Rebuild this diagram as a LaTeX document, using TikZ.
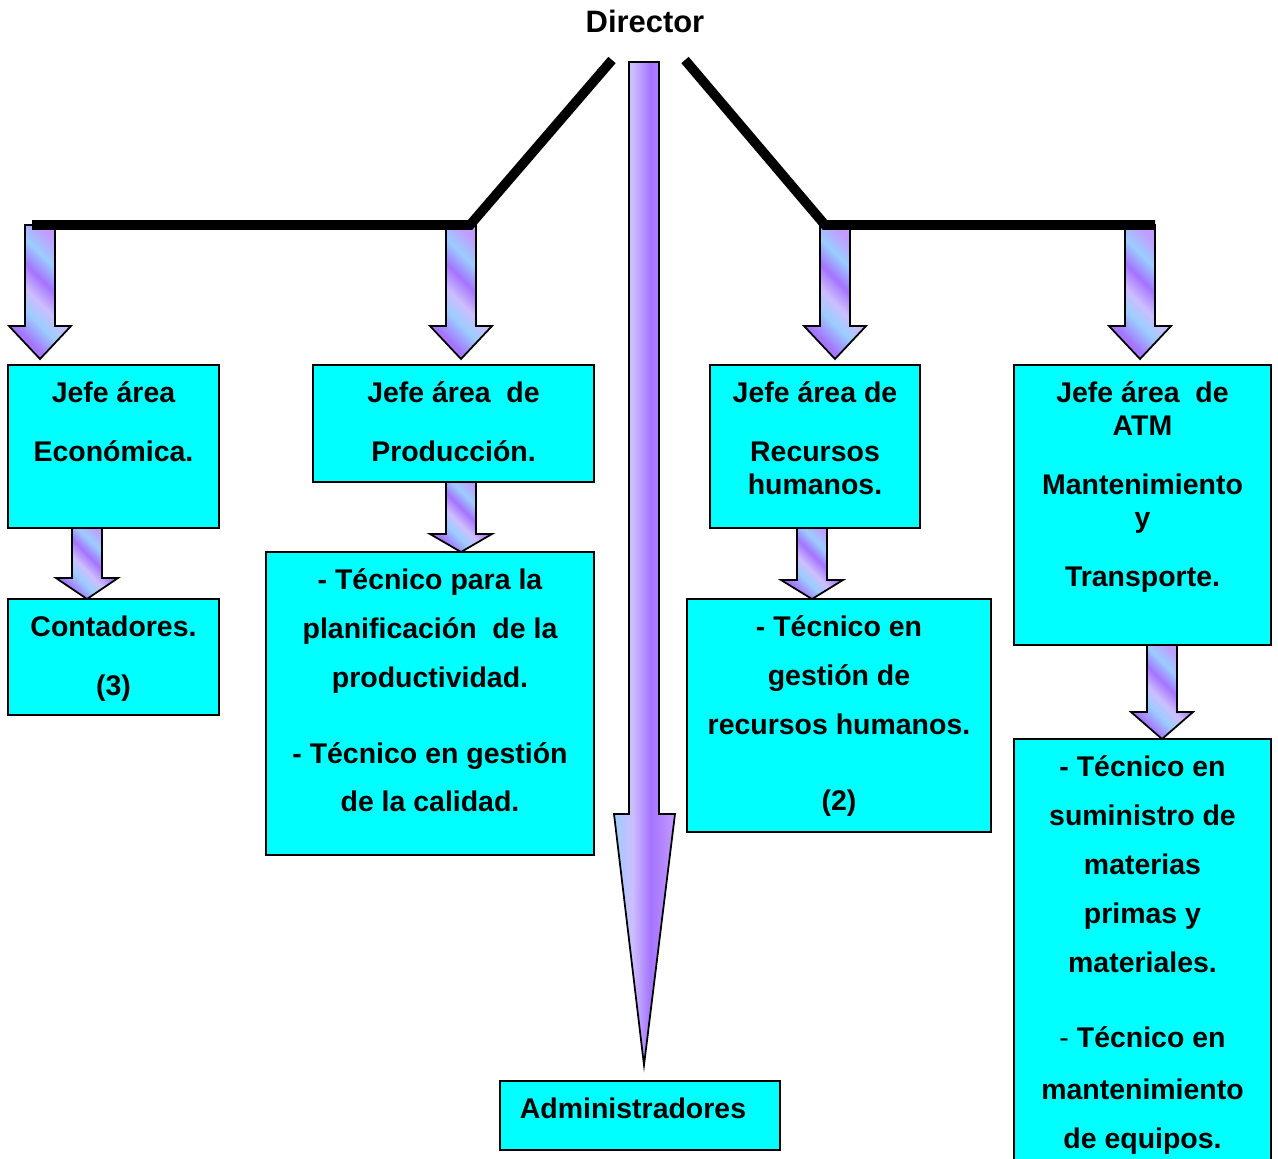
\documentclass[tikz,border=0pt]{standalone}
\usepackage{fontspec}
\setmainfont{Liberation Sans}
\definecolor{aqua}{RGB}{0, 255, 255}
\definecolor{amethyst}{RGB}{165, 115, 255}
\definecolor{periwinkle}{RGB}{155, 205, 255}
\definecolor{lavender}{RGB}{205, 190, 255}
\definecolor{lilac}{RGB}{195, 155, 255}
\pgfdeclarehorizontalshading{ribbon}{100bp}{color(0bp)=(lilac); color(28bp)=(amethyst); color(38bp)=(periwinkle); color(46bp)=(lavender); color(55bp)=(amethyst); color(64bp)=(periwinkle); color(74bp)=(lilac); color(100bp)=(lilac)}
\pgfdeclarehorizontalshading{spire}{100bp}{color(0bp)=(periwinkle); color(25bp)=(periwinkle); color(40bp)=(lavender); color(55bp)=(amethyst); color(75bp)=(lilac); color(100bp)=(lilac)}
\newcommand{\blockarrow}[4]{\draw[blockarrow] ({#1-15},#2) -- ({#1+15},#2) -- ({#1+15},#3) -- ({#1+31},#3) -- (#1,#4) -- ({#1-31},#3) -- ({#1-15},#3) -- cycle;}
\newcommand{\st}{\rule{0pt}{0.8em}}
\begin{document}
\begin{tikzpicture}[x=0.02cm, y=-0.02cm,
        box/.style={draw=black, fill=aqua, line width=1pt, inner sep=0pt},
        boxtext/.style={font=\bfseries\fontsize{16.2}{27.8}\selectfont, align=center, anchor=north, inner sep=0pt},
        blockarrow/.style={draw=black, line width=1pt, shading=ribbon, shading angle=45},
        spirearrow/.style={draw=black, line width=1pt, shading=spire},
        bar/.style={line width=5.5pt}]
            \useasboundingbox (0,0) rectangle (1278,1159);
            \node[box, minimum width=4.22cm, minimum height=3.26cm] (econ)  at ( 113.5, 446.5) {};
            \node[box, minimum width=5.62cm, minimum height=2.34cm] (prod)  at ( 453.5, 423.5) {};
            \node[box, minimum width=4.20cm, minimum height=3.26cm] (rrhh)  at ( 815.0, 446.5) {};
            \node[box, minimum width=5.14cm, minimum height=5.60cm] (atm)   at (1142.5, 505.0) {};
            \node[box, minimum width=4.22cm, minimum height=2.32cm] (cont)  at ( 113.5, 657.0) {};
            \node[box, minimum width=6.56cm, minimum height=6.06cm] (tplan) at ( 430.0, 703.5) {};
            \node[box, minimum width=6.08cm, minimum height=4.66cm] (trrhh) at ( 839.0, 715.5) {};
            \node[box, minimum width=5.14cm, minimum height=8.82cm] (tatm)  at (1142.5, 959.5) {};
            \node[box, minimum width=5.60cm, minimum height=1.38cm] (admin) at ( 640.0,1115.5) {};
            \node[boxtext, font=\bfseries\fontsize{17.6}{20}\selectfont] (director) at ( 645.0,   7.5) {\st Director};
            \node[boxtext] (econt)    at ( 113.5, 379.5) {\st Jefe área\\[5.7pt] Económica.};
            \node[boxtext] (prodt)    at ( 453.5, 379.5) {\st Jefe área\ \ de\\[5.7pt] Producción.};
            \node[boxtext] (rrhht)    at ( 815.0, 379.5) {\st Jefe área de\\[5.7pt] Recursos\\[-9.1pt] humanos.};
            \node[boxtext] (atmt)     at (1142.5, 379.5) {\st Jefe área\ \ de\\[-9.1pt] ATM\\[5.7pt] Mantenimiento\\[-9.1pt] y\\[5.7pt] Transporte.};
            \node[boxtext] (contt)    at ( 113.5, 613.5) {\st Contadores.\\[5.7pt] (3)};
            \node[boxtext] (tplant)   at ( 430.0, 566.5) {\st - Técnico para la\\ planificación\ \ de la\\ productividad.\\[15.3pt] - Técnico en gestión\\ de la calidad.};
            \node[boxtext] (trrhht)   at ( 839.0, 613.5) {\st - Técnico en\\ gestión de\\ recursos humanos.\\[15.3pt] (2)};
            \node[boxtext] (tatmt)    at (1142.5, 753.5) {\st - Técnico en\\ suministro de\\ materias\\ primas y\\ materiales.\\[15.3pt] {\mdseries -} Técnico en\\[1.7pt] mantenimiento\\ de equipos.};
            \node[boxtext] (admint)   at ( 633.0,1095.5) {\st Administradores};
            \blockarrow{40}{225}{326}{359}
            \blockarrow{461}{225}{326}{359}
            \blockarrow{835}{225}{326}{359}
            \blockarrow{1140}{225}{326}{359}
            \blockarrow{87}{528}{578}{599}
            \blockarrow{461}{482}{534}{552}
            \blockarrow{812}{528}{580}{599}
            \blockarrow{1162}{645}{712}{739}
            \draw[spirearrow] (629,62) -- (659,62) -- (659,814) -- (675,814) -- (644,1065) -- (614,814) -- (629,814) -- cycle;
            \coordinate (dirL)  at ( 612,  60);
            \coordinate (knotL) at ( 470, 225);
            \coordinate (endL)  at (  32, 225);
            \coordinate (dirR)  at ( 685,  60);
            \coordinate (knotR) at ( 825, 225);
            \coordinate (endR)  at (1155, 225);
            \draw[bar] (dirL) -- (knotL) -- (endL);
            \draw[bar] (dirR) -- (knotR) -- (endR);
        \end{tikzpicture}
\end{document}
